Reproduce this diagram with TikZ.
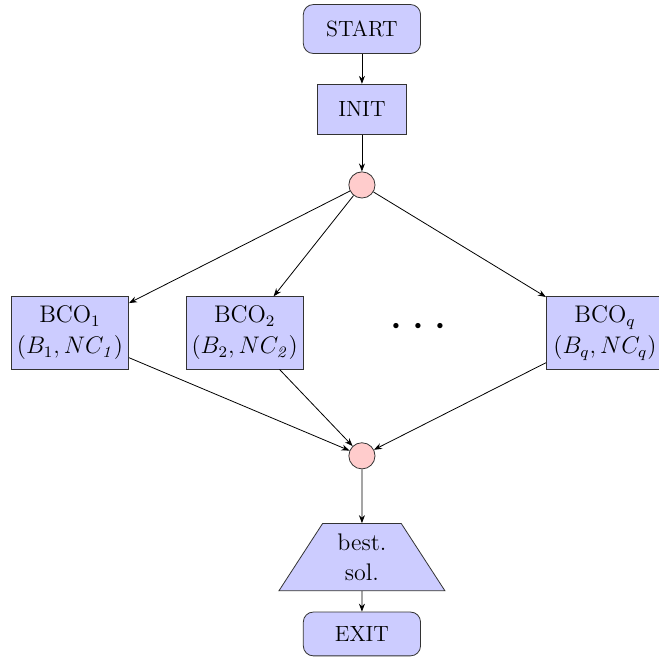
\documentclass[tikz,border=0pt]{standalone}
\usetikzlibrary{shapes.geometric, arrows.meta, positioning}

\begin{document}
\begin{tikzpicture}[
  blk/.style={rectangle,fill=blue!20,draw=black!80,inner sep=2pt,align=center,font=\fontsize{11}{14}\selectfont},
  term/.style={blk,rounded corners=5pt,minimum width=2.06cm,minimum height=0.86cm},
  proc/.style={blk,minimum width=2.06cm,minimum height=1.27cm,font=\fontsize{12}{15.5}\selectfont},
  junc/.style={circle,fill=red!20,draw=black!80,minimum size=0.46cm,inner sep=0pt},
  outp/.style={trapezium,trapezium left angle=60,trapezium right angle=60,trapezium stretches=true,
    fill=blue!20,draw=black!80,align=center,minimum width=2.93cm,minimum height=1.18cm,inner sep=1pt,
    font=\fontsize{12}{15}\selectfont},
  msg/.style={-{Stealth[length=4pt,width=3pt]}}
]
  \useasboundingbox (-6.36,0.51) rectangle (5.22,-11.02);

  \node[term] (Start) at (0,0)       {START};
  \node[blk,minimum width=1.58cm,minimum height=0.88cm] (Init) at (0,-1.41) {INIT};
  \node[junc] (Fork) at (0,-2.74) {};
  \node[proc] (B1) at (-5.13,-5.34)  {BCO$_1$\\$(B_1,NC_{\mathit{1}})$};
  \node[proc] (B2) at (-2.06,-5.34)  {BCO$_2$\\$(B_2,NC_{\mathit{2}})$};
  \node[font=\fontsize{29}{29}\selectfont] (Dots) at (1.0,-5.24) {$\cdots$};
  \node[proc] (Bq) at (4.27,-5.34)   {BCO$_q$\\$(B_q,NC_q)$};
  \node[junc] (Join) at (0,-7.50) {};
  \node[outp] (Best) at (0,-9.28)    {best.\\sol.};
  \node[term,minimum height=0.77cm] (Exit) at (0,-10.63) {EXIT};

  \draw[msg] (Start) -- (Init);
  \draw[msg] (Init) -- (Fork);
  \foreach \b in {B1,B2,Bq} {
    \draw[msg] (Fork) -- (\b);
    \draw[msg] (\b) -- (Join);
  }
  \draw[msg] (Join) -- (Best);
  \draw[msg] (Best) -- (Exit);
\end{tikzpicture}
\end{document}
